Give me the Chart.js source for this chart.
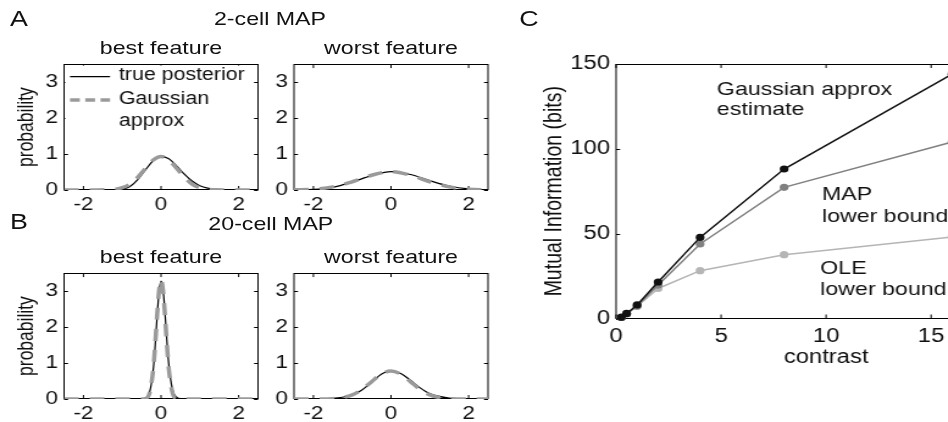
<!DOCTYPE html>
<html><head><meta charset="utf-8">
<script src="https://cdn.jsdelivr.net/npm/chart.js@4.4.0/dist/chart.umd.min.js"></script>
<style>
html,body{margin:0;padding:0;width:948px;height:422px;overflow:hidden;background:#fff;}
#stage{position:absolute;left:0;top:0;width:777px;height:422px;transform:scaleX(1.22);transform-origin:0 0;font-family:"Liberation Sans",Arial,sans-serif;color:#111;}
.t{position:absolute;white-space:nowrap;line-height:1;transform:translateX(-50%);}
.box{position:absolute;}
canvas{display:block;}
</style></head><body><div id="stage"></div>
<script>
const SX = 1.22;
const FF = "'Liberation Sans', Arial, Helvetica, sans-serif";
const INK = '#111111';
const GRAY_DASH = '#9a9a9a';

// ---- Panel A (2-cell MAP) ----
const xA1 = [-2.5, -1.2, -1.0, -0.8, -0.6, -0.4, -0.2, 0, 0.2, 0.4, 0.6, 0.8, 1.0, 1.2, 1.4, 2.5];
const gaussA1 = [0, 0.019, 0.063, 0.165, 0.352, 0.604, 0.835, 0.93, 0.835, 0.604, 0.352, 0.165, 0.063, 0.019, 0.005, 0];
const trueA1  = [0, 0.005, 0.025, 0.10, 0.29, 0.56, 0.82, 0.93, 0.87, 0.67, 0.44, 0.25, 0.12, 0.05, 0.018, 0];
const xA2 = [-2.5, -2.0, -1.5, -1.0, -0.5, 0, 0.5, 1.0, 1.5, 2.0, 2.5];
const gaussA2 = [0.004, 0.022, 0.086, 0.229, 0.411, 0.51, 0.411, 0.229, 0.086, 0.022, 0.004];
const trueA2  = [0.002, 0.015, 0.075, 0.22, 0.40, 0.51, 0.43, 0.26, 0.11, 0.03, 0.006];
// ---- Panel B (20-cell MAP) ----
const xB1 = [-2.5, -0.5, -0.4, -0.3, -0.2, -0.15, -0.1, -0.05, 0, 0.05, 0.1, 0.15, 0.2, 0.3, 0.4, 0.5, 2.5];
const gaussB1 = [0, 0, 0.014, 0.153, 0.84, 1.53, 2.35, 3.03, 3.3, 3.03, 2.35, 1.53, 0.84, 0.153, 0.014, 0, 0];
const trueB1  = [0, 0.003, 0.03, 0.17, 0.82, 1.5, 2.33, 3.0, 3.28, 3.06, 2.42, 1.62, 0.95, 0.24, 0.05, 0.008, 0];
const xB2 = [-2.5, -2.0, -1.5, -1.0, -0.75, -0.5, -0.25, 0, 0.25, 0.5, 0.75, 1.0, 1.5, 2.0, 2.5];
const gaussB2 = [0, 0.0004, 0.010, 0.114, 0.264, 0.482, 0.692, 0.78, 0.692, 0.482, 0.264, 0.114, 0.010, 0.0004, 0];
const trueB2  = [0, 0.002, 0.02, 0.11, 0.25, 0.47, 0.69, 0.78, 0.71, 0.52, 0.31, 0.15, 0.025, 0.003, 0];
const probTicks = [0, 1, 2, 3];
const featTicks = [-2, 0, 2];

// ---- Panel C ----
const contrast = [0.25, 0.5, 1, 2, 4, 8, 16];
const gaussEst = [0.8, 3.0, 8.0, 21.5, 47.8, 88.1, 144];
const mapLB    = [0.6, 2.7, 7.4, 19.7, 43.9, 77.3, 104];
const oleLB    = [0.6, 2.7, 7.2, 17.7, 28.2, 37.6, 48.1];
const contrastTicks = [0, 5, 10, 15, 20];
const bitsTicks = [0, 50, 100, 150];

const pts = (xs, ys) => xs.map((x, i) => ({x: x, y: ys[i]}));
const stage = document.getElementById('stage');

function addText(txt, cx, capCenterY, size) {
  const d = document.createElement('div');
  d.className = 't';
  d.textContent = txt;
  d.style.fontSize = size + 'px';
  d.style.left = cx + 'px';
  d.style.top = (capCenterY - 0.488 * size) + 'px';
  stage.appendChild(d);
}

const framePlugin = {
  id: 'frame',
  beforeDatasetsDraw(chart, args, opts) {
    const {ctx, chartArea: a, scales} = chart;
    const tl = 4;
    ctx.save();
    ctx.strokeStyle = '#000';
    ctx.lineWidth = 1;
    ctx.beginPath();
    scales.x.ticks.forEach(t => {
      const px = scales.x.getPixelForValue(t.value);
      ctx.moveTo(px, a.bottom); ctx.lineTo(px, a.bottom - tl);
      ctx.moveTo(px, a.top); ctx.lineTo(px, a.top + tl);
    });
    scales.y.ticks.forEach(t => {
      const py = Math.round(scales.y.getPixelForValue(t.value)) + 0.5;
      ctx.moveTo(a.left, py); ctx.lineTo(a.left + tl / SX, py);
      ctx.moveTo(a.right, py); ctx.lineTo(a.right - tl / SX, py);
    });
    ctx.stroke();
    const top = Math.round(a.top) + 0.5, bot = Math.round(a.bottom) - 0.5;
    ctx.strokeRect(a.left, top, a.right - a.left, bot - top);
    ctx.restore();
  }
};

const legendPlugin = {
  id: 'mlegend',
  afterDatasetsDraw(chart, args, opts) {
    if (!opts || !opts.items) return;
    const {ctx, chartArea: a} = chart;
    ctx.save();
    ctx.fillStyle = '#fff';
    ctx.fillRect(a.left + 1, a.top + 1.5, 150, 68);
    ctx.font = '17.5px ' + FF;
    ctx.textBaseline = 'middle';
    ctx.textAlign = 'left';
    opts.items.forEach(it => {
      const y = a.top + it.dy;
      if (it.lineColor) {
        ctx.beginPath();
        ctx.strokeStyle = it.lineColor;
        ctx.lineWidth = it.lineWidth;
        ctx.setLineDash(it.dash || []);
        ctx.moveTo(a.left + 4.9, y + 1);
        ctx.lineTo(a.left + 37.7, y + 1);
        ctx.stroke();
        ctx.setLineDash([]);
      }
      ctx.fillStyle = INK;
      ctx.fillText(it.text, a.left + 45, y);
    });
    ctx.restore();
  }
};

const notesPlugin = {
  id: 'notes',
  afterDatasetsDraw(chart, args, opts) {
    if (!opts || !opts.items) return;
    const {ctx, scales} = chart;
    ctx.save();
    ctx.font = '19px ' + FF;
    ctx.fillStyle = INK;
    ctx.textAlign = 'left';
    ctx.textBaseline = 'alphabetic';
    opts.items.forEach(it => {
      ctx.fillText(it.text, scales.x.getPixelForValue(it.x), scales.y.getPixelForValue(it.y));
    });
    ctx.restore();
  }
};
Chart.register(framePlugin, legendPlugin, notesPlugin);

function makeBox(left, top, W, H) {
  const div = document.createElement('div');
  div.className = 'box';
  div.style.left = left + 'px';
  div.style.top = top + 'px';
  const cv = document.createElement('canvas');
  cv.width = W; cv.height = H;
  cv.style.width = W + 'px'; cv.style.height = H + 'px';
  div.appendChild(cv);
  stage.appendChild(div);
  return cv;
}

function tickFont(size) { return {family: FF, size: size}; }

function makeCurve(box, xs, gauss, truth, yTitle, legendItems) {
  const {L, T, R, B, Wy} = box;
  const padTop = 12, Hx = 32;
  const W = Math.ceil(Wy + (R - L) + 10);
  const H = padTop + (B - T) + Hx;
  const cv = makeBox(L - Wy, T - padTop, W, H);
  new Chart(cv, {
    type: 'line',
    data: {datasets: [
      {label: 'Gaussian approx', data: pts(xs, gauss), borderColor: GRAY_DASH, borderWidth: 3.5,
       borderDash: [12, 9], pointRadius: 0, cubicInterpolationMode: 'monotone', fill: false},
      {label: 'true posterior', data: pts(xs, truth), borderColor: '#000', borderWidth: 1.2,
       pointRadius: 0, cubicInterpolationMode: 'monotone', fill: false}
    ]},
    options: {
      responsive: false, animation: false, events: [],
      layout: {padding: {top: padTop, right: W - Wy - (R - L), left: 0, bottom: 0}},
      plugins: {legend: {display: false}, tooltip: {enabled: false},
                mlegend: legendItems ? {items: legendItems} : {}},
      scales: {
        x: {type: 'linear', min: -2.5, max: 2.5,
            afterBuildTicks: s => { s.ticks = featTicks.map(v => ({value: v})); },
            afterFit: s => { s.height = Hx; },
            grid: {display: false, drawTicks: false}, border: {display: false},
            ticks: {padding: 4, font: tickFont(18.5), color: INK, maxRotation: 0, autoSkip: false}},
        y: {type: 'linear', min: 0, max: 3.5,
            afterBuildTicks: s => { s.ticks = probTicks.map(v => ({value: v})); },
            afterFit: s => { s.width = Wy; },
            grid: {display: false, drawTicks: false}, border: {display: false},
            ticks: {padding: 5, font: tickFont(18.5), color: INK},
            title: {display: !!yTitle, text: yTitle || '', color: INK, font: {family: FF, size: 17.5},
                    padding: {top: 12, bottom: 0}}}
      }
    }
  });
}

const legendA = [
  {text: 'true posterior', dy: 11.5, lineColor: '#000', lineWidth: 1.2},
  {text: 'Gaussian', dy: 35, lineColor: GRAY_DASH, lineWidth: 3.5, dash: [8, 4.5]},
  {text: 'approx', dy: 57}
];

makeCurve({L: 52.5, T: 60, R: 211.5, B: 190, Wy: 52.5}, xA1, gaussA1, trueA1, 'probability', legendA);
makeCurve({L: 241, T: 60, R: 400, B: 190, Wy: 30}, xA2, gaussA2, trueA2, null, null);
makeCurve({L: 52.5, T: 269, R: 211.5, B: 399, Wy: 52.5}, xB1, gaussB1, trueB1, 'probability', null);
makeCurve({L: 241, T: 269, R: 400, B: 399, Wy: 30}, xB2, gaussB2, trueB2, null, null);

// Panel C
(function () {
  const L = 504.9, T = 64, B = 318.5, R = L + 20 * 21 / SX;
  const Wy = 75, padTop = 20;
  const W = Math.ceil(Wy + (R - L) + 30);
  const H = 330;
  const Hx = H - padTop - (B - T);
  const cv = makeBox(L - Wy, T - padTop, W, H);
  const ds = (label, ys, col) => ({label: label, data: pts(contrast, ys), borderColor: col, backgroundColor: col,
    borderWidth: 1.5, pointRadius: 3.6, pointBorderWidth: 0, pointBackgroundColor: col, tension: 0, fill: false, clip: 8});
  new Chart(cv, {
    type: 'line',
    data: {datasets: [
      ds('Gaussian approx estimate', gaussEst, '#111111'),
      ds('MAP lower bound', mapLB, '#808080'),
      ds('OLE lower bound', oleLB, '#b5b5b5')
    ]},
    options: {
      responsive: false, animation: false, events: [],
      layout: {padding: {top: padTop, right: W - Wy - (R - L), left: 0, bottom: 0}},
      plugins: {legend: {display: false}, tooltip: {enabled: false},
        notes: {items: [
          {text: 'Gaussian approx', x: 4.8, y: 131.7},
          {text: 'estimate', x: 4.8, y: 119.9},
          {text: 'MAP', x: 9.8, y: 69.8},
          {text: 'lower bound', x: 9.8, y: 57},
          {text: 'OLE', x: 9.72, y: 26.2},
          {text: 'lower bound', x: 9.72, y: 13.8}
        ]}},
      scales: {
        x: {type: 'linear', min: 0, max: 20,
            afterBuildTicks: s => { s.ticks = contrastTicks.map(v => ({value: v})); },
            afterFit: s => { s.height = Hx; },
            grid: {display: false, drawTicks: false}, border: {display: false},
            ticks: {padding: 6, font: tickFont(19.5), color: INK, maxRotation: 0, autoSkip: false},
            title: {display: true, text: 'contrast', color: INK, font: {family: FF, size: 19.5},
                    padding: {top: 0, bottom: 5}}},
        y: {type: 'linear', min: 0, max: 150,
            afterBuildTicks: s => { s.ticks = bitsTicks.map(v => ({value: v})); },
            afterFit: s => { s.width = Wy; },
            grid: {display: false, drawTicks: false}, border: {display: false},
            ticks: {padding: 5, font: tickFont(19.5), color: INK},
            title: {display: true, text: 'Mutual Information (bits)', color: INK, font: {family: FF, size: 19.5},
                    padding: {top: 13.4, bottom: 0}}}
      }
    }
  });
})();

// Panel letters and titles
addText('A', 15.6, 18.3, 22);
addText('2-cell MAP', 221.3, 18.3, 19);
addText('best feature', 132, 47.5, 19);
addText('worst feature', 320.5, 47.5, 19);
addText('B', 15.6, 221.5, 22);
addText('20-cell MAP', 222, 223.5, 19);
addText('best feature', 132, 256.5, 19);
addText('worst feature', 320.5, 256.5, 19);
addText('C', 433.6, 18.3, 22);
</script>
</body></html>
